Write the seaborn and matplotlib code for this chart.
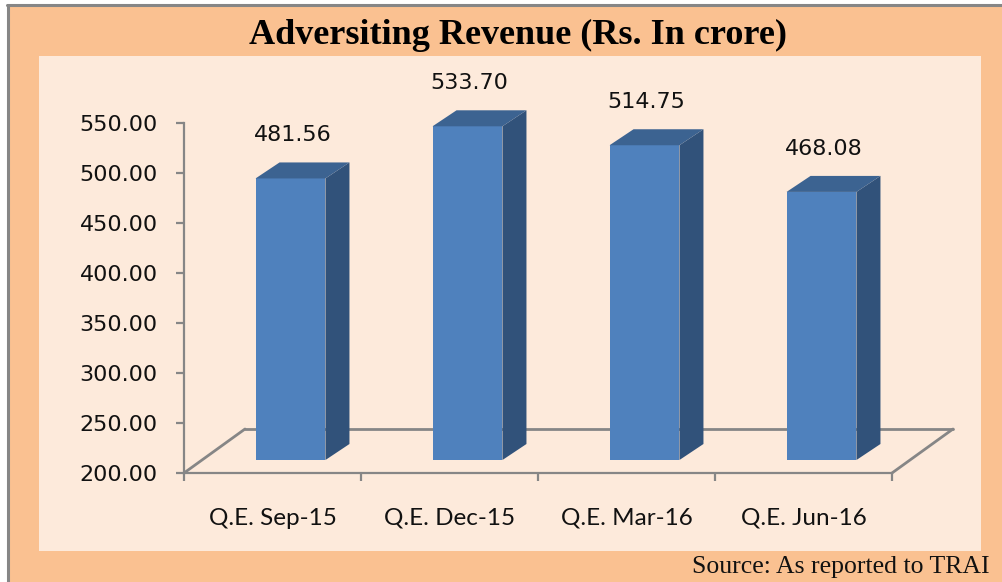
import matplotlib
matplotlib.use("Agg")
import matplotlib.pyplot as plt
import seaborn as sns
from matplotlib.patches import Rectangle, Polygon
from matplotlib.lines import Line2D
from matplotlib.transforms import ScaledTranslation

# ---- data -------------------------------------------------------------
quarters = ["Q.E. Sep-15", "Q.E. Dec-15", "Q.E. Mar-16", "Q.E. Jun-16"]
revenue = [481.56, 533.70, 514.75, 468.08]
y_ticks = [200, 250, 300, 350, 400, 450, 500, 550]
y_tick_labels = [f"{t:.2f}" for t in y_ticks]

title = "Adversiting Revenue (Rs. In crore)"
source = "Source: As reported to TRAI"

# ---- canvas -----------------------------------------------------------
W, H, DPI = 1002, 582, 100
PEACH = "#FAC191"
PANEL = "#FDEADB"
GRID = "#868686"
FRONT = "#4F81BD"
SIDE = "#31527A"
TOP = "#3C6391"

sns.set_theme(style="white")
plt.rcParams["font.family"] = ["DejaVu Sans"]

fig = plt.figure(figsize=(W / DPI, H / DPI), dpi=DPI)
fig.patch.set_facecolor("white")


def fx(x):
    return x / W


def fy(y):
    return 1 - y / H


# outer frame and inner panel (kept underneath the axes)
fig.add_artist(Rectangle((fx(7), 0), 1 - fx(7), fy(4), transform=fig.transFigure,
                         facecolor=PEACH, edgecolor="none", zorder=-3))
fig.add_artist(Line2D([fx(8), fx(8)], [0, fy(5)], transform=fig.transFigure,
                      color=GRID, lw=2.2, zorder=-2))
fig.add_artist(Line2D([fx(7), 1], [fy(5), fy(5)], transform=fig.transFigure,
                      color=GRID, lw=2.2, zorder=-2))
fig.add_artist(Rectangle((fx(39), fy(551)), fx(981) - fx(39), fy(56) - fy(551),
                         transform=fig.transFigure, facecolor=PANEL,
                         edgecolor="none", zorder=-1))

# ---- plotting area ----------------------------------------------------
ax = fig.add_axes([fx(184), fy(473), fx(892) - fx(184), fy(123) - fy(473)])
ax.set_facecolor("none")

sns.barplot(x=quarters, y=revenue, ax=ax, color=FRONT, saturation=1,
            width=0.395, edgecolor="none", linewidth=0, zorder=3)
bars = list(ax.patches)

ymin, ymax = y_ticks[0], y_ticks[-1]
ax.set_ylim(ymin, ymax)
ax.set_xlim(-0.5, len(quarters) - 0.5)

# oblique depth offsets (pixels)
bar_shift = (18, 13)     # where the bars stand on the floor
bar_depth = (24, 16)     # thickness of each bar
floor_depth = (61, 44)   # depth of the floor

shift_tr = ScaledTranslation(bar_shift[0] / DPI, bar_shift[1] / DPI, fig.dpi_scale_trans)
floor_tr = ScaledTranslation(floor_depth[0] / DPI, floor_depth[1] / DPI, fig.dpi_scale_trans)

# pixel -> data unit conversion for the slanted edges
o = ax.transData.transform((0, ymin))
ux = ax.transData.transform((1, ymin))[0] - o[0]
uy = ax.transData.transform((0, ymin + 1))[1] - o[1]
ddx, ddy = bar_depth[0] / ux, bar_depth[1] / uy
fdx, fdy = floor_depth[0] / ux, floor_depth[1] / uy

# floor outline behind the bars
x_lo, x_hi = -0.5, len(quarters) - 0.5
ax.plot([x_lo, x_hi], [ymin, ymin], transform=ax.transData + floor_tr,
        color=GRID, lw=2.0, zorder=1, clip_on=False)
ax.plot([x_lo, x_lo + fdx], [ymin, ymin + fdy], color=GRID, lw=2.0,
        zorder=1, clip_on=False)
ax.plot([x_hi, x_hi + fdx], [ymin, ymin + fdy], color=GRID, lw=2.0,
        zorder=1, clip_on=False)

# turn the flat bars into blocks
for p, val in zip(bars, revenue):
    h = p.get_height()
    p.set_y(ymin)
    p.set_height(h - ymin)
    p.set_transform(ax.transData + shift_tr)
    p.set_clip_on(False)
    x0 = p.get_x()
    x1 = x0 + p.get_width()
    side = Polygon([(x1, ymin), (x1, h), (x1 + ddx, h + ddy), (x1 + ddx, ymin + ddy)],
                   closed=True, transform=ax.transData + shift_tr,
                   facecolor=SIDE, edgecolor="none", zorder=3, clip_on=False)
    top = Polygon([(x0, h), (x1, h), (x1 + ddx, h + ddy), (x0 + ddx, h + ddy)],
                  closed=True, transform=ax.transData + shift_tr,
                  facecolor=TOP, edgecolor="none", zorder=3, clip_on=False)
    ax.add_patch(side)
    ax.add_patch(top)
    ax.annotate(f"{val:.2f}", xy=(x0 + p.get_width() / 2, h),
                xytext=(bar_shift[0] + 2, bar_shift[1] + bar_depth[1] + 27),
                textcoords="offset pixels", ha="center", va="center",
                fontsize=16, color="#111111", annotation_clip=False)

# ---- axes styling -----------------------------------------------------
for side_name in ["top", "right"]:
    ax.spines[side_name].set_visible(False)
for side_name in ["left", "bottom"]:
    ax.spines[side_name].set_color(GRID)
    ax.spines[side_name].set_linewidth(1.6)

ax.set_yticks(y_ticks)
ax.set_yticklabels(y_tick_labels)
ax.tick_params(axis="y", direction="out", length=6, width=1.6, color=GRID,
               pad=13, labelsize=16, labelcolor="#111111", left=True)

ax.set_xticks(range(len(quarters)))
ax.set_xticklabels(quarters, fontfamily="Lato", fontsize=17.5, color="#111111")
ax.set_xticks([i - 0.5 for i in range(len(quarters) + 1)], minor=True)
ax.tick_params(axis="x", which="major", length=0, pad=25)
ax.tick_params(axis="x", which="minor", direction="out", length=6, width=1.6,
               color=GRID, bottom=True)
ax.set_xlabel("")
ax.set_ylabel("")

# ---- titles -----------------------------------------------------------
fig.text(fx(518), fy(35), title, ha="center", va="center",
         fontfamily="Liberation Serif", fontweight="bold", fontsize=26,
         color="#000000")
fig.text(fx(990), fy(567), source, ha="right", va="center",
         fontfamily="Liberation Serif", fontsize=18.5, color="#111111")

fig.savefig("out.png", dpi=DPI, facecolor=fig.get_facecolor())
